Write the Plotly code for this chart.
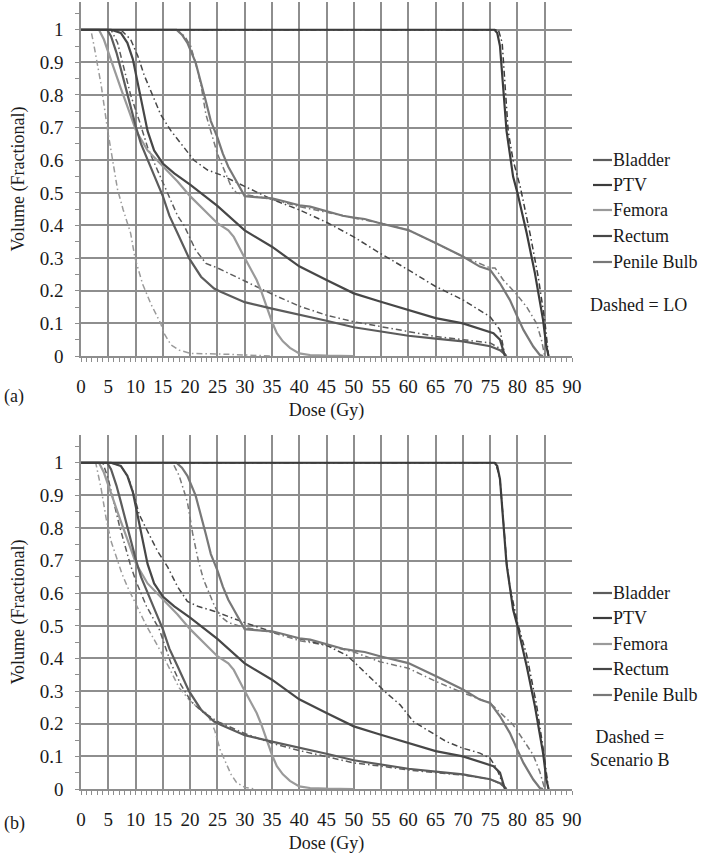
import plotly.graph_objects as go

# ---------------- data (Dose in Gy, Volume fractional) ----------------
# Solid curves (reference plan), shared by both panels
PTV_X = [0, 75.8, 76.3, 76.8, 77.4, 78, 78.6, 79.2, 80, 81.7, 83.2, 84.7, 85.3, 85.7]
PTV_Y = [1, 1, 0.99, 0.95, 0.82, 0.69, 0.62, 0.55, 0.50, 0.376, 0.254, 0.11, 0.03, 0]

BLADDER_X = [0, 4.8, 5.5, 6.5, 7.3, 8.2, 9.1, 10.1, 11, 12.2, 13.5, 15, 16.2, 17.7, 19.8, 22, 24.4,
             25.6, 28, 30, 35, 40, 45, 50, 54.8, 60, 65, 70, 75, 76.8, 77.5, 78]
BLADDER_Y = [1, 1, 0.98, 0.93, 0.88, 0.82, 0.765, 0.70, 0.65, 0.60, 0.55, 0.49, 0.43, 0.376, 0.30, 0.243,
             0.207, 0.197, 0.18, 0.165, 0.145, 0.127, 0.108, 0.088, 0.075, 0.062, 0.053, 0.045, 0.03,
             0.018, 0.008, 0]

RECTUM_X = [0, 5.5, 7.3, 8.5, 9.5, 10.1, 11, 12.2, 13.4, 15, 17.1, 20, 25, 30, 35, 40, 45, 50, 54.8,
            60, 65, 70, 73, 75.6, 76.8, 77.7]
RECTUM_Y = [1, 1, 0.99, 0.96, 0.91, 0.86, 0.78, 0.69, 0.63, 0.59, 0.56, 0.525, 0.46, 0.385, 0.335,
            0.275, 0.233, 0.192, 0.167, 0.141, 0.116, 0.10, 0.085, 0.07, 0.05, 0]

FEMORA_X = [0, 3.3, 4.2, 5, 6.1, 7.3, 8.5, 10.1, 12.2, 15, 17.7, 20, 22.5, 25, 27, 28, 29.7, 31, 32.2,
            33, 34, 35, 35.9, 37, 38.3, 40, 42, 45, 50]
FEMORA_Y = [1, 1, 0.97, 0.93, 0.88, 0.82, 0.765, 0.69, 0.63, 0.58, 0.535, 0.49, 0.45, 0.407, 0.385,
            0.365, 0.31, 0.27, 0.233, 0.20, 0.15, 0.105, 0.07, 0.045, 0.025, 0.008, 0.003, 0.001, 0]

PENILE_X = [0, 17.5, 18.5, 19.5, 21, 22, 22.9, 23.8, 25, 26, 27, 28, 29, 30, 32, 35, 37, 40, 42, 45,
            48, 50, 52, 54.8, 60, 65, 70, 73.1, 75, 76.8, 78.6, 80, 81.1, 82.9, 84.1, 84.7]
PENILE_Y = [1, 1, 0.985, 0.96, 0.90, 0.84, 0.78, 0.72, 0.67, 0.62, 0.58, 0.55, 0.52, 0.49, 0.487,
            0.483, 0.475, 0.462, 0.458, 0.443, 0.43, 0.424, 0.42, 0.407, 0.386, 0.346, 0.305, 0.274,
            0.264, 0.223, 0.172, 0.12, 0.08, 0.029, 0.003, 0]

# Panel (a) dashed curves: LO
PTV_LO_X = [0, 76.5, 77.2, 77.7, 78.3, 79.2, 80.5, 82.3, 83.8, 85, 85.7]
PTV_LO_Y = [1, 1, 0.96, 0.83, 0.69, 0.60, 0.52, 0.376, 0.243, 0.11, 0]

BLADDER_LO_X = [0, 5.5, 6.7, 7.9, 9.1, 10.7, 12.2, 14, 15.9, 17.7, 18.9, 21, 22.9, 25, 30, 35, 40, 45,
                50, 54.8, 60, 65, 70, 75, 77.1, 78]
BLADDER_LO_Y = [1, 1, 0.96, 0.88, 0.80, 0.72, 0.64, 0.57, 0.50, 0.43, 0.40, 0.325, 0.284, 0.27, 0.23,
                0.19, 0.153, 0.125, 0.105, 0.09, 0.075, 0.06, 0.05, 0.04, 0.02, 0]

RECTUM_LO_X = [0, 7.3, 9.1, 10.4, 11.6, 13.1, 14.6, 16.5, 18.3, 20.7, 23.2, 25.6, 30, 35, 40, 45, 50,
               54.8, 60, 65, 70, 75, 76.8, 77.7]
RECTUM_LO_Y = [1, 1, 0.97, 0.92, 0.86, 0.80, 0.74, 0.69, 0.65, 0.60, 0.57, 0.555, 0.52, 0.48, 0.448,
               0.41, 0.365, 0.315, 0.264, 0.213, 0.172, 0.12, 0.08, 0]

FEMORA_LO_X = [0, 1.8, 2.4, 3.7, 4.9, 5.8, 6.7, 7.7, 9.1, 9.9, 11.3, 12.8, 14.6, 15.2, 16.5, 18, 20.1,
               25.6, 30, 35]
FEMORA_LO_Y = [1, 1, 0.95, 0.83, 0.69, 0.60, 0.51, 0.45, 0.376, 0.30, 0.22, 0.16, 0.10, 0.07, 0.034,
               0.018, 0.008, 0.006, 0.003, 0]

PENILE_LO_X = [0, 17.5, 19, 20.1, 21.3, 22, 22.9, 24.1, 25, 26.5, 27.5, 28.5, 30, 35, 40, 45, 50, 54.8,
               60, 65, 70, 75, 75.9, 77.4, 79.8, 81.7, 83.5, 84.4, 85]
PENILE_LO_Y = [1, 1, 0.98, 0.95, 0.88, 0.83, 0.74, 0.67, 0.62, 0.56, 0.52, 0.50, 0.495, 0.48, 0.458,
               0.44, 0.423, 0.408, 0.386, 0.346, 0.305, 0.27, 0.27, 0.233, 0.19, 0.15, 0.10, 0.05, 0]

# Panel (b) dashed curves: Scenario B
PTV_B_X = [0, 76, 76.8, 77.4, 78, 78.6, 80, 81.7, 83.5, 84.7, 85.7]
PTV_B_Y = [1, 1, 0.95, 0.82, 0.70, 0.62, 0.51, 0.41, 0.258, 0.125, 0]

BLADDER_B_X = [0, 4.0, 5, 6, 7, 8, 9, 10, 12, 14, 14.4, 16.5, 18.3, 20.1, 22, 23.8, 25.3, 30, 35, 40,
               45, 50, 55, 60, 65, 70, 75, 77, 78]
BLADDER_B_Y = [1, 1, 0.95, 0.88, 0.81, 0.75, 0.69, 0.64, 0.56, 0.50, 0.487, 0.385, 0.32, 0.27, 0.24,
               0.22, 0.205, 0.17, 0.14, 0.118, 0.098, 0.08, 0.07, 0.058, 0.05, 0.043, 0.03, 0.015, 0]

RECTUM_B_X = [0, 5.5, 7.3, 8.5, 9.2, 10.7, 12.2, 14, 15.9, 17.7, 19.5, 21.4, 24.4, 30, 35, 40, 45,
              48.7, 50, 56, 58.5, 60.9, 64, 67, 70, 73.1, 75, 76.2, 77.4, 77.9]
RECTUM_B_Y = [1, 1, 0.99, 0.96, 0.93, 0.84, 0.79, 0.73, 0.68, 0.62, 0.575, 0.56, 0.545, 0.51, 0.482,
              0.46, 0.44, 0.41, 0.39, 0.294, 0.258, 0.207, 0.176, 0.145, 0.125, 0.11, 0.094, 0.063,
              0.012, 0]

FEMORA_B_X = [0, 2.7, 3.7, 4.6, 5.5, 6.5, 7.5, 8.5, 10, 12, 14, 15, 16.5, 18, 20, 21.4, 23.2, 24.5,
              25.5, 26.5, 27.5, 28.5, 30, 32]
FEMORA_B_Y = [1, 1, 0.92, 0.83, 0.76, 0.71, 0.66, 0.62, 0.57, 0.50, 0.44, 0.41, 0.36, 0.31, 0.27,
              0.25, 0.23, 0.18, 0.12, 0.08, 0.045, 0.02, 0.005, 0]

PENILE_B_X = [0, 16.8, 18, 19.5, 20.5, 21.5, 22.5, 23.5, 24.5, 25.5, 27, 29, 30, 35, 40, 45, 50, 54.8,
              60, 65, 70, 75, 77.4, 79.2, 81.1, 82.9, 84.1, 85]
PENILE_B_Y = [1, 1, 0.96, 0.88, 0.78, 0.70, 0.64, 0.60, 0.56, 0.53, 0.51, 0.50, 0.495, 0.48, 0.455,
              0.44, 0.42, 0.39, 0.37, 0.33, 0.295, 0.263, 0.227, 0.197, 0.15, 0.104, 0.053, 0]

ORGANS = ["Bladder", "PTV", "Femora", "Rectum", "Penile Bulb"]
X_TICKS = list(range(0, 95, 5))
Y_TICKS = [0, 0.1, 0.2, 0.3, 0.4, 0.5, 0.6, 0.7, 0.8, 0.9, 1]
Y_TICK_TEXT = ["0", "0.1", "0.2", "0.3", "0.4", "0.5", "0.6", "0.7", "0.8", "0.9", "1"]

# ---------------- styling ----------------
COLORS = {"Bladder": "#5c5c5c", "PTV": "#3c3c3c", "Femora": "#9a9a9a",
          "Rectum": "#474747", "Penile Bulb": "#787878"}
FONT = "Liberation Serif, Times New Roman, serif"
GRID = "#8e8e8e"
TXT = "#1a1a1a"
W, H, L, R = 702, 855, 81, 130
PW = W - L - R


def px_x(p):
    return (p - L) / PW


def px_y(p):
    return 1 - p / H


solid = {"Bladder": (BLADDER_X, BLADDER_Y), "PTV": (PTV_X, PTV_Y), "Femora": (FEMORA_X, FEMORA_Y),
         "Rectum": (RECTUM_X, RECTUM_Y), "Penile Bulb": (PENILE_X, PENILE_Y)}
dash_a = {"Bladder": (BLADDER_LO_X, BLADDER_LO_Y), "PTV": (PTV_LO_X, PTV_LO_Y),
          "Femora": (FEMORA_LO_X, FEMORA_LO_Y), "Rectum": (RECTUM_LO_X, RECTUM_LO_Y),
          "Penile Bulb": (PENILE_LO_X, PENILE_LO_Y)}
dash_b = {"Bladder": (BLADDER_B_X, BLADDER_B_Y), "PTV": (PTV_B_X, PTV_B_Y),
          "Femora": (FEMORA_B_X, FEMORA_B_Y), "Rectum": (RECTUM_B_X, RECTUM_B_Y),
          "Penile Bulb": (PENILE_B_X, PENILE_B_Y)}

fig = go.Figure()
DASH = "6px,3px,1.5px,3px"
draw_order = ["Femora", "Penile Bulb", "Bladder", "Rectum", "PTV"]
for xa, ya, dd in (("x", "y", dash_a), ("x2", "y2", dash_b)):
    for org in draw_order:
        dx, dy = dd[org]
        fig.add_trace(go.Scatter(x=dx, y=dy, mode="lines", name=org + " (dashed)", showlegend=False,
                                 line=dict(color=COLORS[org], width=1.5, dash=DASH),
                                 xaxis=xa, yaxis=ya))
    for org in draw_order:
        sx, sy = solid[org]
        fig.add_trace(go.Scatter(x=sx, y=sy, mode="lines", name=org, showlegend=False,
                                 line=dict(color=COLORS[org], width=2.2),
                                 xaxis=xa, yaxis=ya))

xaxis_common = dict(range=[0, 90], tickvals=X_TICKS, showgrid=True, gridcolor=GRID, gridwidth=1.5,
                    showline=True, linecolor=GRID, linewidth=1.5, zeroline=False, automargin=False,
                    ticks="outside", ticklen=4, tickcolor=GRID, ticklabelstandoff=8,
                    minor=dict(dtick=1, ticks="outside", ticklen=4, tickcolor=GRID, showgrid=False),
                    tickfont=dict(family=FONT, size=19, color=TXT),
                    title=dict(text="Dose (Gy)", font=dict(family=FONT, size=18, color=TXT),
                               standoff=8))
yaxis_common = dict(range=[0, 1.085], tickvals=Y_TICKS, ticktext=Y_TICK_TEXT, showgrid=True,
                    gridcolor=GRID, gridwidth=1.5, showline=True, linecolor=GRID, linewidth=1.5,
                    zeroline=False, automargin=False, ticks="outside", ticklen=4, tickcolor=GRID,
                    ticklabelstandoff=8,
                    minor=dict(tickvals=[0.05 + 0.1 * i for i in range(11)], ticks="outside",
                               ticklen=4, tickcolor=GRID, showgrid=False),
                    tickfont=dict(family=FONT, size=19, color=TXT),
                    title=dict(text="Volume (Fractional)",
                               font=dict(family=FONT, size=18, color=TXT), standoff=10))

fig.update_layout(
    width=W, height=H, margin=dict(l=L, r=R, t=0, b=0, autoexpand=False),
    paper_bgcolor="white", plot_bgcolor="white", showlegend=False,
    xaxis=dict(xaxis_common, domain=[0, 1], anchor="y"),
    yaxis=dict(yaxis_common, domain=[px_y(356), px_y(2)], anchor="x"),
    xaxis2=dict(xaxis_common, domain=[0, 1], anchor="y2"),
    yaxis2=dict(yaxis_common, domain=[px_y(789), px_y(435)], anchor="x2"),
)

annotations = []
shapes = []
txt_font = dict(family=FONT, size=18, color=TXT)
for ys in ([160, 185, 210, 236, 262], [593, 618, 644, 669, 695]):
    for org, yp in zip(ORGANS, ys):
        shapes.append(dict(type="line", xref="paper", yref="paper", x0=px_x(593), x1=px_x(612),
                           y0=px_y(yp), y1=px_y(yp), line=dict(color=COLORS[org], width=2.2)))
        annotations.append(dict(text=org, xref="paper", yref="paper", x=px_x(611), y=px_y(yp),
                                xanchor="left", yanchor="middle", showarrow=False, font=txt_font))
annotations.append(dict(text="Dashed = LO", xref="paper", yref="paper", x=px_x(588), y=px_y(305),
                        xanchor="left", yanchor="middle", showarrow=False, font=txt_font))
annotations.append(dict(text="Dashed =<br>Scenario B", xref="paper", yref="paper", x=px_x(588),
                        y=px_y(748), xanchor="left", yanchor="middle", align="center",
                        showarrow=False, font=txt_font))
annotations.append(dict(text="(a)", xref="paper", yref="paper", x=px_x(2), y=px_y(397),
                        xanchor="left", yanchor="middle", showarrow=False, font=txt_font))
annotations.append(dict(text="(b)", xref="paper", yref="paper", x=px_x(2), y=px_y(823),
                        xanchor="left", yanchor="middle", showarrow=False, font=txt_font))
fig.update_layout(annotations=annotations, shapes=shapes)

fig.write_html("out.html", config={"displayModeBar": False},
               post_script="document.body.style.margin='0';document.body.style.padding='0';")
